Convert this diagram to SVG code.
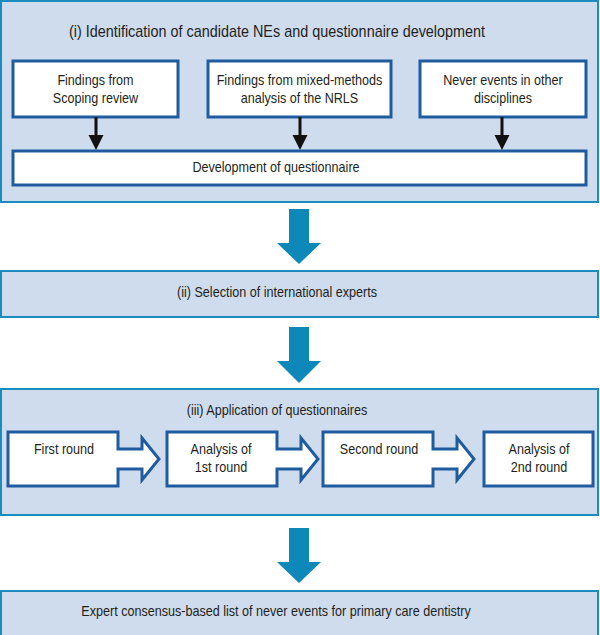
<svg xmlns="http://www.w3.org/2000/svg" width="600" height="635" viewBox="0 0 600 635">
<style>
.panel{fill:#cfdcee;stroke:#1a8cc0;stroke-width:2}
.box{fill:#ffffff;stroke:#1f5c9f;stroke-width:3}
.t{font-family:"Liberation Sans",Arial,sans-serif;font-size:14px;fill:#231f20;text-anchor:middle}
.h{font-size:16px}
.big{fill:#0e87b9}
.sm{stroke:#111;stroke-width:3;fill:none}
.smh{fill:#111}
</style>
<rect width="600" height="635" fill="#ffffff"/>

<g id="panel1">
<rect class="panel" x="1" y="1" width="597" height="201"/>
<text class="t h" transform="translate(277,37) scale(0.9,1)">(i) Identification of candidate NEs and questionnaire development</text>
</g>
<g id="scoping">
<rect class="box" x="13" y="61" width="165" height="56"/>
<text class="t" transform="translate(95.5,85) scale(0.9,1)">Findings from</text>
<text class="t" transform="translate(95.5,103) scale(0.9,1)">Scoping review</text>
</g>
<g id="nrls">
<rect class="box" x="208" y="61" width="183" height="56"/>
<text class="t" transform="translate(299.5,85) scale(0.9,1)">Findings from mixed-methods</text>
<text class="t" transform="translate(299.5,103) scale(0.9,1)">analysis of the NRLS</text>
</g>
<g id="other">
<rect class="box" x="420" y="61" width="166" height="56"/>
<text class="t" transform="translate(503,85) scale(0.9,1)">Never events in other</text>
<text class="t" transform="translate(503,103) scale(0.9,1)">disciplines</text>
</g>
<g id="devq">
<rect class="box" x="13" y="151" width="573" height="34"/>
<text class="t" transform="translate(276,172) scale(0.9,1)">Development of questionnaire</text>
</g>

<g id="panel2">
<rect class="panel" x="1" y="271" width="597" height="46"/>
<text class="t" transform="translate(277,297) scale(0.9,1)">(ii) Selection of international experts</text>
</g>

<g id="panel3">
<rect class="panel" x="1" y="389" width="597" height="126"/>
<text class="t" transform="translate(277,415) scale(0.9,1)">(iii) Application of questionnaires</text>
</g>
<g id="round1">
<path class="box" d="M8,432 H118 V449 H142 V438 L159,459 L142,480 V469 H118 V486 H8 Z"/>
<text class="t" transform="translate(64,454) scale(0.9,1)">First round</text>
</g>
<g id="analysis1">
<path class="box" d="M167,432 H277 V449 H301 V438 L318,459 L301,480 V469 H277 V486 H167 Z"/>
<text class="t" transform="translate(221,454) scale(0.9,1)">Analysis of</text>
<text class="t" transform="translate(221,472) scale(0.9,1)">1st round</text>
</g>
<g id="round2">
<path class="box" d="M323,432 H433 V449 H457 V438 L474,459 L457,480 V469 H433 V486 H323 Z"/>
<text class="t" transform="translate(379,454) scale(0.9,1)">Second round</text>
</g>
<g id="analysis2">
<rect class="box" x="484" y="432" width="109" height="54"/>
<text class="t" transform="translate(539,454) scale(0.9,1)">Analysis of</text>
<text class="t" transform="translate(539,472) scale(0.9,1)">2nd round</text>
</g>

<g id="result">
<rect class="panel" x="1" y="591" width="597" height="50"/>
<text class="t" transform="translate(276,616) scale(0.9,1)">Expert consensus-based list of never events for primary care dentistry</text>
</g>

<g id="connectors">
<line class="sm" x1="96" y1="117" x2="96" y2="137"/>
<polygon class="smh" points="88.5,135 103.5,135 96,150"/>
<line class="sm" x1="300" y1="117" x2="300" y2="137"/>
<polygon class="smh" points="292.5,135 307.5,135 300,150"/>
<line class="sm" x1="502" y1="117" x2="502" y2="137"/>
<polygon class="smh" points="494.5,135 509.5,135 502,150"/>
<polygon class="big" points="289,209 309,209 309,243 321,243 299,264 277,243 289,243"/>
<polygon class="big" points="289,327 309,327 309,361 321,361 299,383 277,361 289,361"/>
<polygon class="big" points="289,528 309,528 309,562 321,562 299,583 277,562 289,562"/>
</g>
</svg>
